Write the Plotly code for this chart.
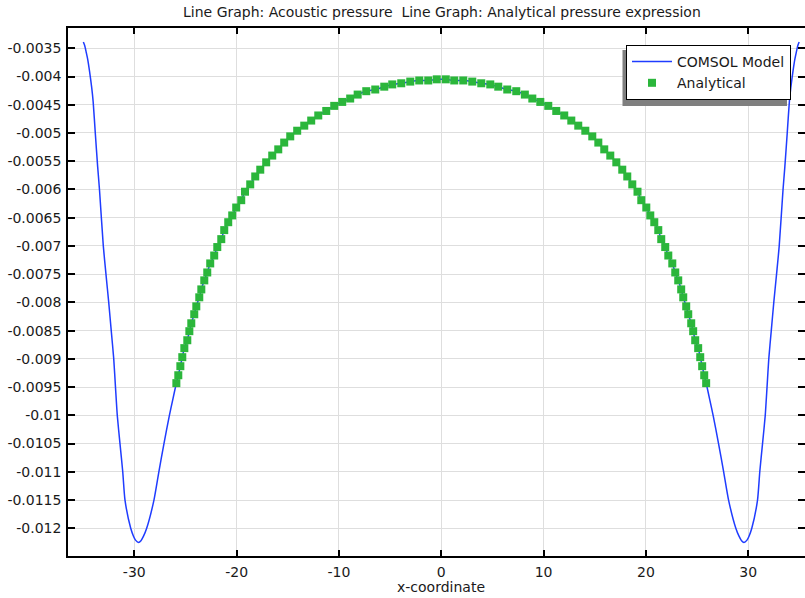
import plotly.graph_objects as go

# Analytical pressure (markers)
ana_x = [-25.89, -25.70, -25.50, -25.31, -25.11, -24.82, -24.62, -24.43, -24.14, -23.94,
         -23.65, -23.45, -23.16, -22.87, -22.58, -22.19, -21.89, -21.50, -21.21, -20.82,
         -20.43, -20.04, -19.55, -19.18, -18.67, -18.18, -17.69, -17.11, -16.52, -15.93,
         -15.35, -14.76, -14.08, -13.39, -12.71, -12.02, -11.24, -10.46, -9.68, -8.90,
         -8.17, -7.33, -6.45, -5.57, -4.79, -3.91, -3.03, -2.15, -1.27, -0.44,
         0.44, 1.27, 2.15, 3.03, 3.91, 4.79, 5.57, 6.45, 7.33, 8.17,
         8.90, 9.68, 10.46, 11.24, 12.02, 12.71, 13.39, 14.08, 14.76, 15.35,
         15.93, 16.52, 17.11, 17.69, 18.18, 18.67, 19.18, 19.55, 20.04, 20.43,
         20.82, 21.21, 21.50, 21.89, 22.19, 22.58, 22.87, 23.16, 23.45, 23.65,
         23.94, 24.14, 24.43, 24.62, 24.82, 25.11, 25.31, 25.50, 25.70, 25.89]
ana_y = [-0.00943, -0.00929, -0.00913, -0.00897, -0.00881, -0.00867, -0.00851, -0.00837, -0.00821, -0.00807,
         -0.00791, -0.00777, -0.00761, -0.00747, -0.00731, -0.00717, -0.00702, -0.00688, -0.00672, -0.00658,
         -0.00646, -0.00632, -0.00619, -0.00604, -0.00591, -0.00577, -0.00565, -0.00552, -0.00540, -0.00529,
         -0.00517, -0.00506, -0.00496, -0.00487, -0.00478, -0.00469, -0.00461, -0.00452, -0.00445, -0.00439,
         -0.00432, -0.00426, -0.00423, -0.00418, -0.00414, -0.00412, -0.00409, -0.00407, -0.00407, -0.00405,
         -0.00405, -0.00407, -0.00407, -0.00409, -0.00412, -0.00414, -0.00418, -0.00423, -0.00426, -0.00432,
         -0.00439, -0.00445, -0.00452, -0.00461, -0.00469, -0.00478, -0.00487, -0.00496, -0.00506, -0.00517,
         -0.00529, -0.00540, -0.00552, -0.00565, -0.00577, -0.00591, -0.00604, -0.00619, -0.00632, -0.00646,
         -0.00658, -0.00672, -0.00688, -0.00702, -0.00717, -0.00731, -0.00747, -0.00761, -0.00777, -0.00791,
         -0.00807, -0.00821, -0.00837, -0.00851, -0.00867, -0.00881, -0.00897, -0.00913, -0.00929, -0.00943]

# COMSOL model tails outside the analytical range
left_x = [-34.98, -34.85, -34.70, -34.55, -34.38, -34.16, -34.02, -33.81, -33.58, -33.40,
          -33.03, -32.77, -32.50, -32.25, -32.01, -31.84, -31.66, -31.40, -31.13, -30.91,
          -30.35, -30.08, -29.88, -29.58, -29.35, -29.10, -28.79, -28.08, -27.60, -27.10,
          -26.58, -26.25]
left_y = [-0.00339, -0.00345, -0.00357, -0.00370, -0.00390, -0.00420, -0.00445, -0.00501, -0.00560, -0.00601,
          -0.00700, -0.00750, -0.00800, -0.00851, -0.00900, -0.00950, -0.01001, -0.01050, -0.01100, -0.01150,
          -0.01200, -0.01214, -0.01221, -0.01225, -0.01222, -0.01214, -0.01200, -0.01150, -0.01100, -0.01050,
          -0.01001, -0.00973]
right_x = [26.25, 26.58, 27.10, 27.60, 28.08, 28.79, 29.10, 29.35, 29.58, 29.88,
           30.08, 30.35, 30.91, 31.13, 31.40, 31.66, 31.84, 32.01, 32.25, 32.50,
           32.77, 33.03, 33.40, 33.58, 33.81, 34.02, 34.16, 34.38, 34.55, 34.70,
           34.85, 34.98]
right_y = [-0.00973, -0.01001, -0.01050, -0.01100, -0.01150, -0.01200, -0.01214, -0.01222, -0.01225, -0.01221,
           -0.01214, -0.01200, -0.01150, -0.01100, -0.01050, -0.01001, -0.00950, -0.00900, -0.00851, -0.00800,
           -0.00750, -0.00700, -0.00601, -0.00560, -0.00501, -0.00445, -0.00420, -0.00390, -0.00370, -0.00357,
           -0.00345, -0.00339]

comsol_x = left_x + ana_x + right_x
comsol_y = left_y + ana_y + right_y

x_ticks = [-30, -20, -10, 0, 10, 20, 30]
y_ticks = [-0.0035, -0.004, -0.0045, -0.005, -0.0055, -0.006, -0.0065, -0.007, -0.0075, -0.008,
           -0.0085, -0.009, -0.0095, -0.01, -0.0105, -0.011, -0.0115, -0.012]
y_tick_text = ["-0.0035", "-0.004", "-0.0045", "-0.005", "-0.0055", "-0.006", "-0.0065", "-0.007",
               "-0.0075", "-0.008", "-0.0085", "-0.009", "-0.0095", "-0.01", "-0.0105", "-0.011",
               "-0.0115", "-0.012"]

FONT = "DejaVu Sans"
W, H = 805, 598
ML, MR, MT, MB = 68, 0, 28, 42
pw, ph = W - ML - MR, H - MT - MB

def px2paper(px, py):
    return (px - ML) / pw, (H - MB - py) / ph

fig = go.Figure()
fig.add_trace(go.Scatter(x=comsol_x, y=comsol_y, mode="lines", name="COMSOL Model",
                         line=dict(color="#1f3cff", width=1.5, shape="spline", smoothing=0.6)))
fig.add_trace(go.Scatter(x=ana_x, y=ana_y, mode="markers", name="Analytical",
                         marker=dict(symbol="square", size=8, color="#2bb63b",
                                     line=dict(width=0))))

# legend shadow
sx0, sy0 = px2paper(622.5, 106)
sx1, sy1 = px2paper(787, 50)
fig.add_shape(type="rect", xref="paper", yref="paper", x0=sx0, y0=sy0, x1=sx1, y1=sy1,
              fillcolor="#7f7f7f", line=dict(width=0), layer="above")
lx, ly = px2paper(626, 45)

title_text = "Line Graph: Acoustic pressure  Line Graph: Analytical pressure expression"
tx, ty = px2paper(441.5, 12)
fig.add_annotation(text=title_text, x=tx, y=ty, xref="paper", yref="paper",
                   xanchor="center", yanchor="middle", showarrow=False,
                   font=dict(family=FONT, size=14, color="#1a1a1a"))
ax_, ay_ = px2paper(441, 587)
fig.add_annotation(text="x-coordinate", x=ax_, y=ay_, xref="paper", yref="paper",
                   xanchor="center", yanchor="middle", showarrow=False,
                   font=dict(family=FONT, size=14, color="#1a1a1a"))

fig.update_layout(
    width=W, height=H,
    margin=dict(l=ML, r=MR, t=MT, b=MB, pad=0, autoexpand=False),
    paper_bgcolor="white", plot_bgcolor="white",
    font=dict(family=FONT, size=14, color="#1a1a1a"),
    showlegend=True,
    legend=dict(x=lx, y=ly, xanchor="left", yanchor="top",
                bgcolor="white", bordercolor="black", borderwidth=1,
                font=dict(family=FONT, size=14, color="#1a1a1a"),
                itemwidth=40, tracegroupgap=0),
    xaxis=dict(range=[-36.48, 35.55], tickvals=x_ticks, ticktext=[str(v) for v in x_ticks],
               automargin=False,
               showgrid=True, gridcolor="#dedede", gridwidth=1, zeroline=False,
               showline=True, linecolor="black", linewidth=1.5, mirror="ticks",
               ticks="inside", ticklen=6, tickcolor="black", tickwidth=1.5,
               ticklabelstandoff=2, tickfont=dict(size=14)),
    yaxis=dict(range=[-0.012491, -0.003141], tickvals=y_ticks, ticktext=y_tick_text,
               automargin=False,
               showgrid=True, gridcolor="#dedede", gridwidth=1, zeroline=False,
               showline=True, linecolor="black", linewidth=1.5, mirror="ticks",
               ticks="inside", ticklen=7, tickcolor="black", tickwidth=1.5,
               ticklabelstandoff=2, tickfont=dict(size=14)),
)

fig.write_html("out.html", config={"displayModeBar": False},
               post_script="document.body.style.margin='0px';document.body.style.overflow='hidden';")
